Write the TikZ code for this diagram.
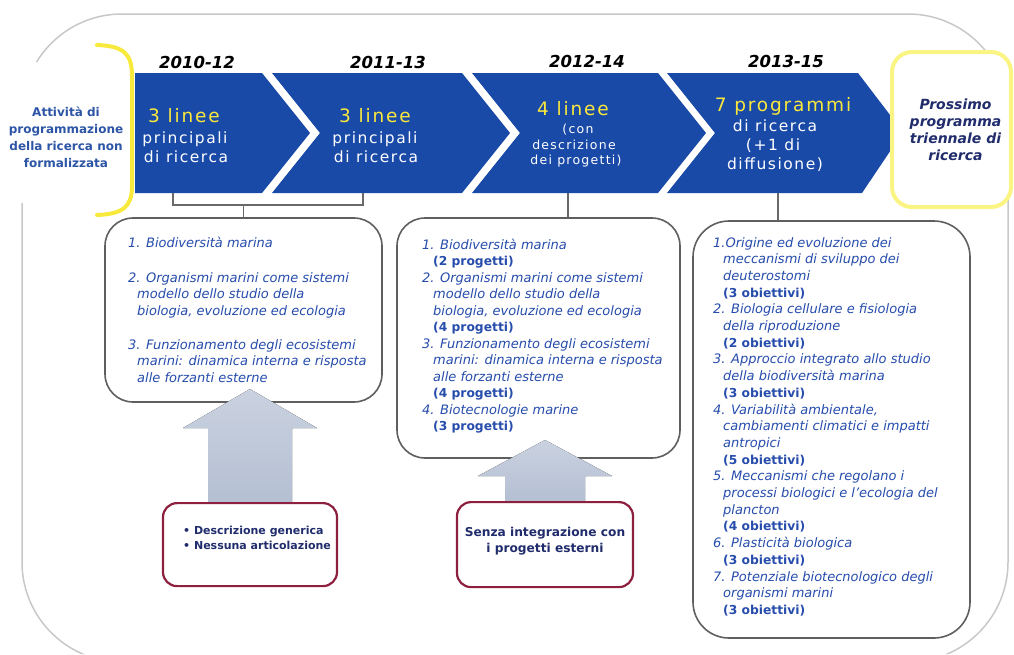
\documentclass[tikz,border=0pt]{standalone}
\usepackage{fontspec}
\setmainfont{DejaVu Sans}
\newfontfamily\spaced{DejaVu Sans}[LetterSpace=10]

\definecolor{band}{RGB}{26,74,168}
\definecolor{bandyellow}{RGB}{250,232,60}
\definecolor{leftblue}{RGB}{45,85,165}
\definecolor{itemblue}{RGB}{38,76,172}
\definecolor{navy}{RGB}{32,44,108}
\definecolor{redline}{RGB}{140,32,62}
\definecolor{arrowtop}{RGB}{202,210,224}
\definecolor{arrowbot}{RGB}{180,191,210}
\definecolor{framegray}{RGB}{200,200,200}
\definecolor{linkgray}{RGB}{105,105,105}
\definecolor{boxline}{RGB}{95,95,95}
\definecolor{bracketyellow}{RGB}{248,234,60}
\definecolor{nextyellow}{RGB}{250,244,130}

\newcommand\bxi{\fontsize{13}{15}\selectfont\itshape}
\newcommand\bxb{\fontsize{12.3}{15}\selectfont\bfseries}

\tikzset{
  year/.style={anchor=base, inner sep=0, font=\fontsize{16.5}{18}\selectfont\bfseries\itshape},
  big/.style={anchor=base, inner sep=0, text=bandyellow, font=\spaced\fontsize{18.5}{20}\selectfont},
  sub/.style={anchor=base, inner sep=0, text=white, font=\spaced\fontsize{15.5}{17}\selectfont},
  small/.style={anchor=base, inner sep=0, text=white, font=\spaced\fontsize{12.5}{14}\selectfont},
  content/.style={draw=boxline, line width=1.6, fill=white, rounded corners=28},
  itemline/.style={anchor=base west, inner sep=0, text=itemblue},
  redbox/.style={draw=redline, line width=2.2, fill=white, rounded corners=14,
    anchor=north, minimum height=83},
  redtext/.style={inner sep=0, text=navy, font=\fontsize{11}{13}\selectfont\bfseries},
  link/.style={draw=linkgray, line width=1.3},
  uparrow/.style={top color=arrowtop, bottom color=arrowbot, draw=none},
}

\begin{document}
\begin{tikzpicture}[x=1pt, y=-1pt]
\useasboundingbox (0,0) rectangle (1014,654);

% outer rounded frame, open on the left beside the starting label
\begin{scope}
  \clip (0,0) -- (1014,0) -- (1014,654) -- (0,654) -- (0,203) -- (45,203)
        -- (45,62) -- (0,62) -- cycle;
  \draw[framegray, line width=1.5, rounded corners=100] (22,14) rectangle (1008,662);
\end{scope}

% starting label and its yellow bracket
\node[align=center, text=leftblue, inner sep=0,
      font=\fontsize{12}{17}\selectfont\bfseries] (start) at (66,137)
  {Attività di\\programmazione\\della ricerca non\\formalizzata};
\draw[bracketyellow, line width=4, line cap=round]
  (97,45) .. controls (124,46) and (132,54) .. (132,76) -- (132,186)
  .. controls (132,206) and (124,214) .. (97,215);

% chevron band
\fill[band] (135,73) -- (262,73) -- (310,133) -- (262,193) -- (135,193) -- cycle;
\fill[band] (272,73) -- (462,73) -- (510,133) -- (462,193) -- (272,193) -- (320,133) -- cycle;
\fill[band] (472,73) -- (658,73) -- (706,133) -- (658,193) -- (472,193) -- (520,133) -- cycle;
\fill[band] (667,73) -- (858,73) -- (903,132) -- (862,193) -- (667,193) -- (715,133) -- cycle;

% period labels
\node[year] (y1) at (197,68) {2010-12};
\node[year] (y2) at (388,68) {2011-13};
\node[year] (y3) at (587,67) {2012-14};
\node[year] (y4) at (786,67) {2013-15};

% chevron texts
\node[big] (c1a) at (184,122) {3 linee};
\node[sub] (c1b) at (185,143) {principali};
\node[sub] (c1c) at (186,162) {di ricerca};
\node[big] (c2a) at (375,122) {3 linee};
\node[sub] (c2b) at (375,143) {principali};
\node[sub] (c2c) at (376,162) {di ricerca};
\node[big] (c3a) at (573,115) {4 linee};
\node[small] (c3b) at (578,133) {(con};
\node[small] (c3c) at (574,149) {descrizione};
\node[small] (c3d) at (576,164) {dei progetti)};
\node[big] (c4a) at (783,111) {7 programmi};
\node[sub] (c4b) at (775,131) {di ricerca};
\node[sub] (c4c) at (773,150) {(+1 di};
\node[sub] (c4d) at (775,169) {diffusione)};

% next programme box
\node[draw=nextyellow, line width=4, fill=white, rounded corners=20,
      minimum width=119, minimum height=155, align=center, text=navy,
      font=\fontsize{14}{17}\selectfont\bfseries\itshape] (next) at (951.5,129.5)
  {\hspace*{8pt}Prossimo\\\hspace*{8pt}programma\\\hspace*{8pt}triennale di\\\hspace*{8pt}ricerca};

% content boxes
\node[content, minimum width=277, minimum height=184] (box1) at (243.5,310) {};
\node[content, minimum width=283, minimum height=240] (box2) at (538.5,338) {};
\node[content, rounded corners=36, minimum width=277, minimum height=417] (box3) at (831.5,429.5) {};

% connectors from the band to the boxes
\coordinate (ch1) at (173,193);
\coordinate (ch2) at (363,193);
\coordinate (join1) at (243.5,205);
\coordinate (ch3) at (568,193);
\coordinate (ch4) at (778,193);
\draw[link] (ch1) -- (ch1 |- join1) -- (ch2 |- join1) -- (ch2);
\draw[link] (join1) -- (box1.north);
\draw[link] (ch3) -- (ch3 |- box2.north);
\draw[link] (ch4) -- (ch4 |- box3.north);

% box 1 lines
\foreach \xx/\yy/\ff/\txt [count=\i] in {
  128/247/i/{1. Biodiversità marina},
  128/282/i/{2. Organismi marini come sistemi},
  137/298.5/i/{modello dello studio della},
  137/315/i/{biologia, evoluzione ed ecologia},
  128/349/i/{3. Funzionamento degli ecosistemi},
  137/365.5/i/{marini: dinamica interna e risposta},
  137/382/i/{alle forzanti esterne}}
  \node[itemline, font=\csname bx\ff\endcsname] (b1l\i) at (\xx,\yy) {\txt};

% box 2 lines
\foreach \xx/\ff/\txt [count=\i] in {
  422/i/{1. Biodiversità marina},
  433/b/{(2 progetti)},
  422/i/{2. Organismi marini come sistemi},
  433/i/{modello dello studio della},
  433/i/{biologia, evoluzione ed ecologia},
  433/b/{(4 progetti)},
  422/i/{3. Funzionamento degli ecosistemi},
  433/i/{marini: dinamica interna e risposta},
  433/i/{alle forzanti esterne},
  433/b/{(4 progetti)},
  422/i/{4. Biotecnologie marine},
  433/b/{(3 progetti)}}
  \node[itemline, font=\csname bx\ff\endcsname] (b2l\i) at (\xx,{249+(\i-1)*16.5}) {\txt};

% box 3 lines
\foreach \xx/\ff/\txt [count=\i] in {
  713/i/{1.Origine ed evoluzione dei},
  723/i/{meccanismi di sviluppo dei},
  723/i/{deuterostomi},
  723/b/{(3 obiettivi)},
  713/i/{2. Biologia cellulare e fisiologia},
  723/i/{della riproduzione},
  723/b/{(2 obiettivi)},
  713/i/{3. Approccio integrato allo studio},
  723/i/{della biodiversità marina},
  723/b/{(3 obiettivi)},
  713/i/{4. Variabilità ambientale,},
  723/i/{cambiamenti climatici e impatti},
  723/i/{antropici},
  723/b/{(5 obiettivi)},
  713/i/{5. Meccanismi che regolano i},
  723/i/{processi biologici e l'ecologia del},
  723/i/{plancton},
  723/b/{(4 obiettivi)},
  713/i/{6. Plasticità biologica},
  723/b/{(3 obiettivi)},
  713/i/{7. Potenziale biotecnologico degli},
  723/i/{organismi marini},
  723/b/{(3 obiettivi)}}
  \node[itemline, font=\csname bx\ff\endcsname] (b3l\i) at (\xx,{247+(\i-1)*16.7}) {\txt};

% block arrows from the remarks up to the boxes
\coordinate (r1top) at (250,502);
\coordinate (r2top) at (545,501);
\fill[uparrow] ([xshift=-42pt]r1top) -- ++(0,-74) -- ++(-25,0) -- ([yshift=113pt]r1top)
  -- ++(67,39) -- ++(-25,0) -- ([xshift=42pt]r1top) -- cycle;
\fill[uparrow] ([xshift=-40pt]r2top) -- ++(0,-25) -- ++(-27,0) -- ([yshift=61pt]r2top)
  -- ++(67,36) -- ++(-27,0) -- ([xshift=40pt]r2top) -- cycle;

% remark boxes
\node[redbox, minimum width=174] (red1) at (r1top) {};
\node[redbox, minimum width=176, minimum height=85] (red2) at (r2top) {};
\node[redtext, anchor=base west] (red1a) at (183,534) {• Descrizione generica};
\node[redtext, anchor=base west] (red1b) at (183,549) {• Nessuna articolazione};
\node[redtext, anchor=base, font=\fontsize{12.2}{14}\selectfont\bfseries] (red2a) at (545,536) {Senza integrazione con};
\node[redtext, anchor=base, font=\fontsize{12.2}{14}\selectfont\bfseries] (red2b) at (545,552) {i progetti esterni};

\end{tikzpicture}
\end{document}
